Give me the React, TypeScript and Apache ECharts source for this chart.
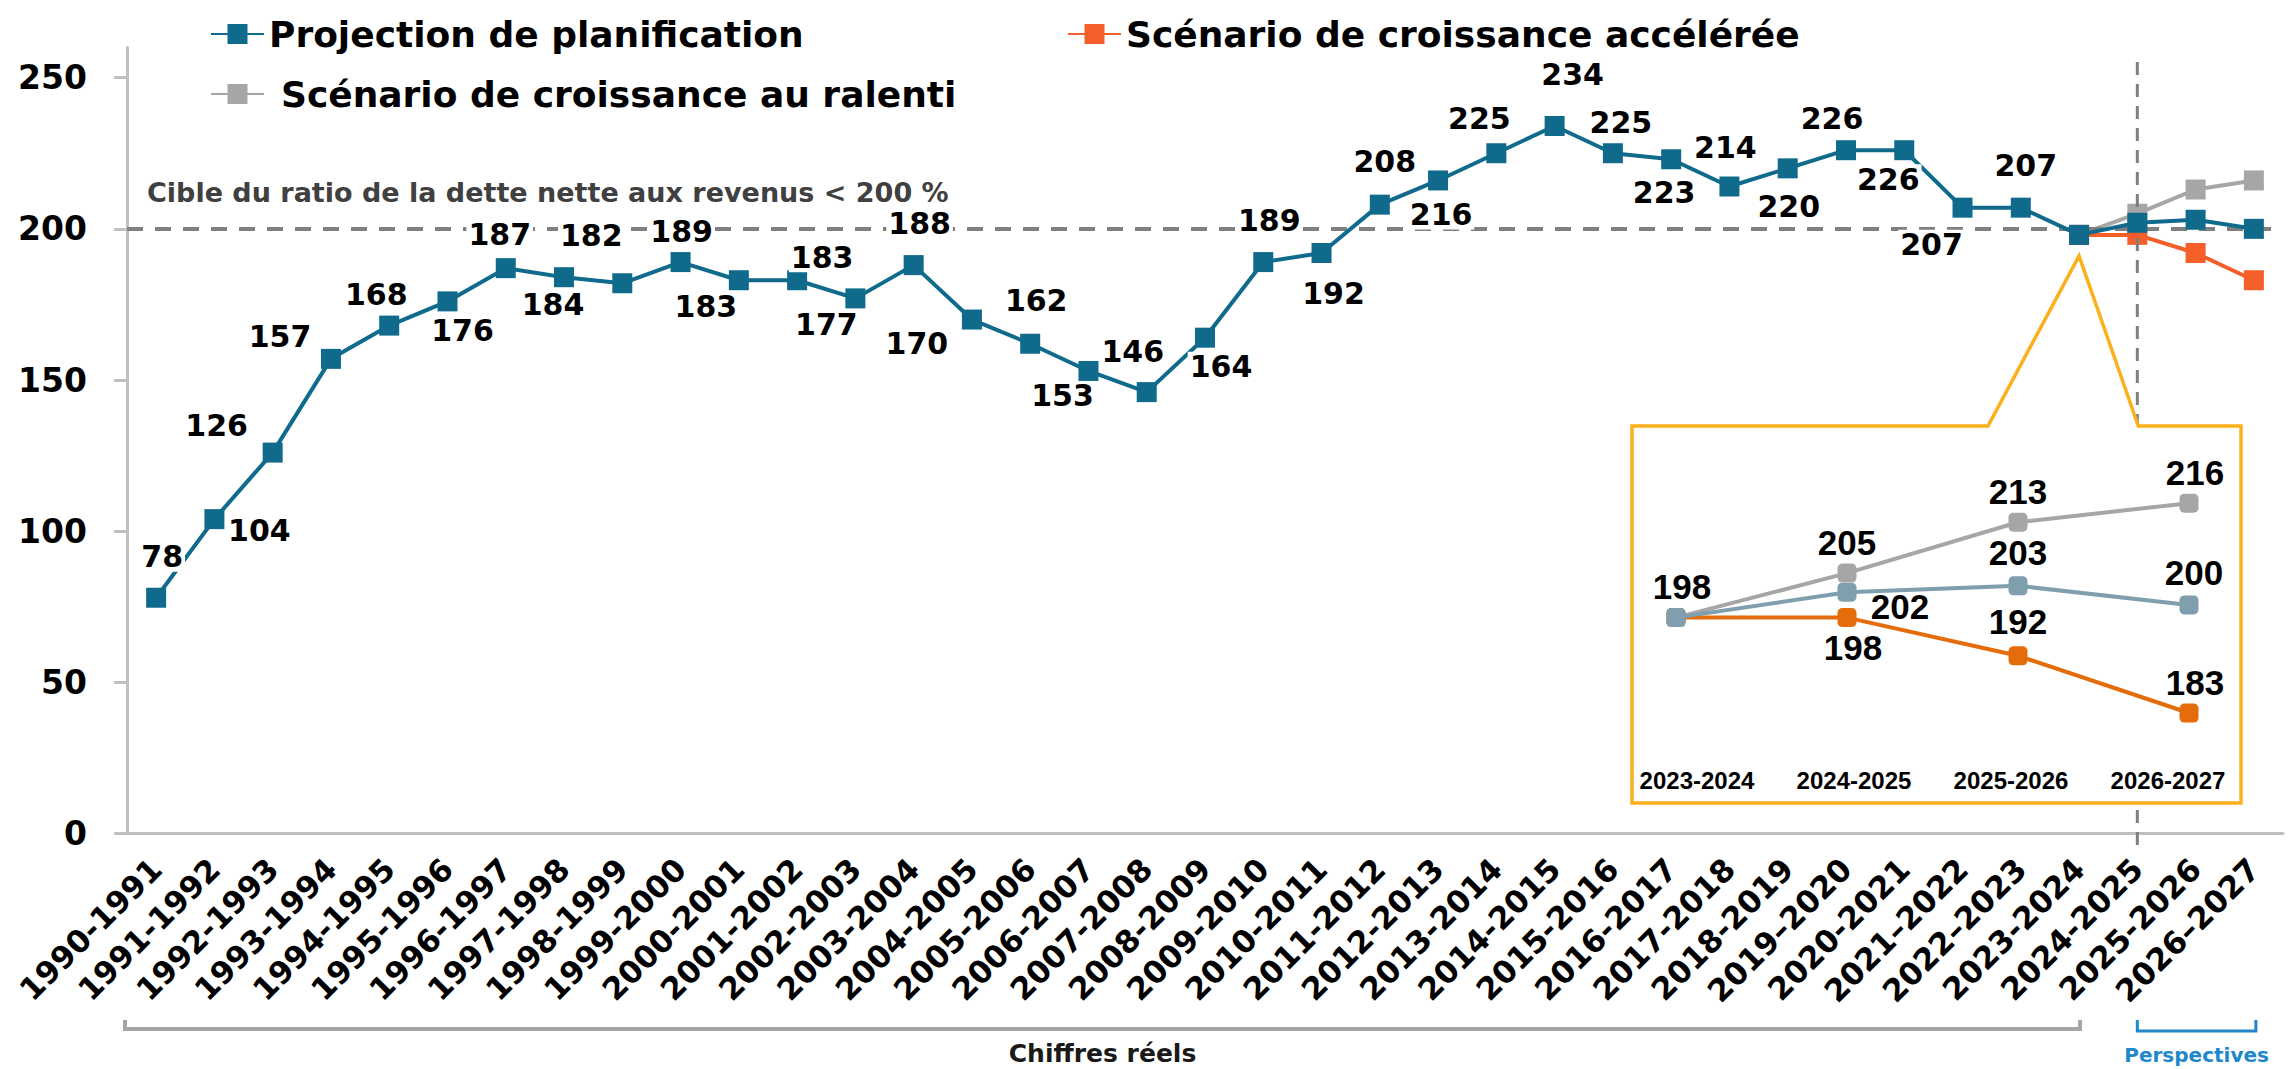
import React, { useEffect, useRef } from 'react';
import * as echarts from 'echarts';

// ---------- Data ----------
const categories = [
  '1990-1991', '1991-1992', '1992-1993', '1993-1994', '1994-1995', '1995-1996', '1996-1997',
  '1997-1998', '1998-1999', '1999-2000', '2000-2001', '2001-2002', '2002-2003', '2003-2004',
  '2004-2005', '2005-2006', '2006-2007', '2007-2008', '2008-2009', '2009-2010', '2010-2011',
  '2011-2012', '2012-2013', '2013-2014', '2014-2015', '2015-2016', '2016-2017', '2017-2018',
  '2018-2019', '2019\u20132020', '2020-2021', '2021\u20132022', '2022\u20132023', '2023-2024',
  '2024-2025', '2025-2026', '2026\u20132027',
];

const planification = [
  78, 104, 126, 157, 168, 176, 187, 184, 182, 189, 183, 183, 177, 188, 170, 162, 153, 146, 164,
  189, 192, 208, 216, 225, 234, 225, 223, 214, 220, 226, 226, 207, 207, 198, 202, 203, 200,
];

const insetCategories = ['2023-2024', '2024-2025', '2025-2026', '2026-2027'];
const insetPlanification = [198, 202, 203, 200];
const insetAccelere = [198, 198, 192, 183];
const insetRalenti = [198, 205, 213, 216];

const yTicks = [0, 50, 100, 150, 200, 250];
const targetValue = 200;

const NAME_PLAN = 'Projection de planification';
const NAME_ACC = 'Scénario de croissance accélérée';
const NAME_RAL = 'Scénario de croissance au ralenti';

// label placements (offsets of label centre from point centre, px)
const planLabelOffsets: (number[] | null)[] = [
  [6, -41], [45, 11], [-56, -27], [-51, -22], [-13, -31], [15, 29], [-6, -34], [-11, 27],
  [-31, -48], [1, -31], [-33, 26], [25, -23], [-29, 26], [6, -42], [-55, 24], [6, -43],
  [-26, 25], [-14, -41], [16, 29], [6, -42], [12, 40], [5, -43], [3, 34], [-17, -35],
  [18, -52], [8, -31], [-7, 33], [-4, -39], [1, 38], [-14, -32], [-16, 29], [-31, 37],
  [5, -42], null, null, null, null,
];
const insetPlanOffsets: (number[] | null)[] = [[6, -31], [53, 14], [0, -33], [5, -32]];
const insetAccOffsets: (number[] | null)[] = [null, [6, 30], [0, -34], [6, -31]];
const insetRalOffsets: (number[] | null)[] = [null, [0, -31], [0, -31], [6, -31]];

// ---------- Style ----------
const BLUE = '#0F6A8B';
const ORANGE = '#F55F2A';
const GRAY = '#A6A6A6';
const INSET_BLUE = '#7F9EAE';
const INSET_ORANGE = '#E46C0A';
const AXIS_GRAY = '#BFBFBF';
const GOLD = '#FBB01C';
const FONT = "'DejaVu Sans', sans-serif";
const ARIAL = "'Liberation Sans', Arial, sans-serif";

const forecastStart = categories.indexOf('2023-2024');
const forecastSeries = (vals: number[]) =>
  categories.map((_, i) => (i >= forecastStart ? vals[i - forecastStart] : null));

const withLabels = (vals: number[], offsets: (number[] | null)[]) =>
  vals.map((v, i) => ({
    value: v,
    label: offsets[i] ? { show: true, position: 'inside', offset: offsets[i] } : { show: false },
  }));

export default function App() {
  const ref = useRef<HTMLDivElement>(null);

  useEffect(() => {
    const chart = echarts.init(ref.current!, null, { renderer: 'svg' });

    const mainLabel = {
      fontFamily: FONT,
      fontWeight: 'bold',
      fontSize: 30,
      color: '#000',
      backgroundColor: '#fff',
      padding: [0, 2],
    };
    const insetLabel = {
      fontFamily: ARIAL,
      fontWeight: 'bold',
      fontSize: 35,
      color: '#000',
    };
    const legendText = { fontFamily: FONT, fontWeight: 'bold', fontSize: 36, color: '#000', lineHeight: 38 };

    const option: any = {
      animation: false,
      backgroundColor: '#fff',
      legend: [
        { data: [NAME_PLAN], left: 205, top: 10, itemWidth: 53, itemHeight: 25, textStyle: legendText, selectedMode: false },
        { data: [NAME_ACC], left: 1062, top: 10, itemWidth: 53, itemHeight: 25, textStyle: legendText, selectedMode: false },
        { data: [NAME_RAL], left: 205, top: 70, itemWidth: 53, itemHeight: 25, textStyle: { ...legendText, padding: [0, 0, 0, 12] }, selectedMode: false },
      ],
      grid: [
        { left: 127, right: 10, top: 47.4, bottom: 235.4 },
        { left: 1676, width: 513, top: 445.9, bottom: 305.1 },
        { left: 1618.5, width: 628, top: 700, bottom: 307 },
      ],
      xAxis: [
        {
          type: 'category',
          gridIndex: 0,
          data: categories,
          boundaryGap: true,
          axisLine: { lineStyle: { color: AXIS_GRAY, width: 3 } },
          axisTick: { alignWithLabel: true, length: 9, lineStyle: { color: AXIS_GRAY, width: 2.5 } },
          axisLabel: {
            interval: 0,
            rotate: 45,
            margin: 30,
            fontFamily: FONT,
            fontWeight: 'bold',
            fontSize: 31,
            color: '#000',
          },
        },
        {
          type: 'category',
          gridIndex: 1,
          data: insetCategories,
          boundaryGap: false,
          show: false,
        },
        {
          type: 'category',
          gridIndex: 2,
          data: insetCategories,
          boundaryGap: true,
          z: 70,
          axisLine: { show: false },
          axisTick: { show: false },
          axisLabel: { margin: 6, fontFamily: ARIAL, fontWeight: 'bold', fontSize: 24, color: '#000' },
        },
      ],
      yAxis: [
        {
          type: 'value',
          gridIndex: 0,
          min: 0,
          max: 260,
          interval: 50,
          splitLine: { show: false },
          axisLine: { show: true, lineStyle: { color: AXIS_GRAY, width: 3 } },
          axisTick: { show: true, length: 13, customValues: yTicks, lineStyle: { color: AXIS_GRAY, width: 3 } },
          axisLabel: {
            customValues: yTicks,
            margin: 40,
            fontFamily: FONT,
            fontWeight: 'bold',
            fontSize: 33,
            color: '#000',
          },
        },
        { type: 'value', gridIndex: 1, min: 175, max: 225, show: false },
        { type: 'value', gridIndex: 2, show: false },
      ],
      series: [
        {
          name: NAME_RAL,
          type: 'line',
          z: 3,
          data: forecastSeries(insetRalenti),
          symbol: 'rect',
          symbolSize: 20,
          itemStyle: { color: GRAY },
          lineStyle: { color: GRAY, width: 4 },
          emphasis: { disabled: true },
          markLine: {
            silent: true,
            symbol: 'none',
            label: { show: false },
            lineStyle: { color: '#7F7F7F', width: 4, type: [16, 12] },
            data: [{ yAxis: targetValue }],
          },
        },
        {
          name: NAME_ACC,
          type: 'line',
          z: 4,
          data: forecastSeries(insetAccelere),
          symbol: 'rect',
          symbolSize: 20,
          itemStyle: { color: ORANGE },
          lineStyle: { color: ORANGE, width: 4 },
          emphasis: { disabled: true },
        },
        {
          name: NAME_PLAN,
          type: 'line',
          z: 5,
          data: withLabels(planification, planLabelOffsets),
          symbol: 'rect',
          symbolSize: 20,
          itemStyle: { color: BLUE },
          lineStyle: { color: BLUE, width: 4 },
          label: mainLabel,
          emphasis: { disabled: true },
        },
        // inset (zoom on the forecast)
        {
          name: 'Détail ralenti',
          type: 'line',
          xAxisIndex: 1,
          yAxisIndex: 1,
          z: 61,
          data: withLabels(insetRalenti, insetRalOffsets),
          symbol: 'roundRect',
          symbolSize: 19,
          itemStyle: { color: GRAY },
          lineStyle: { color: GRAY, width: 4 },
          label: insetLabel,
          emphasis: { disabled: true },
        },
        {
          name: 'Détail accélérée',
          type: 'line',
          xAxisIndex: 1,
          yAxisIndex: 1,
          z: 62,
          data: withLabels(insetAccelere, insetAccOffsets),
          symbol: 'roundRect',
          symbolSize: 19,
          itemStyle: { color: INSET_ORANGE },
          lineStyle: { color: INSET_ORANGE, width: 4 },
          label: insetLabel,
          emphasis: { disabled: true },
        },
        {
          name: 'Détail planification',
          type: 'line',
          xAxisIndex: 1,
          yAxisIndex: 1,
          z: 63,
          data: withLabels(insetPlanification, insetPlanOffsets),
          symbol: 'roundRect',
          symbolSize: 19,
          itemStyle: { color: INSET_BLUE },
          lineStyle: { color: INSET_BLUE, width: 4 },
          label: insetLabel,
          emphasis: { disabled: true },
        },
      ],
    };

    chart.setOption(option);

    const xAt = (i: number) => chart.convertToPixel({ xAxisIndex: 0 }, i) as number;
    const yAt = (v: number) => chart.convertToPixel({ yAxisIndex: 0 }, v) as number;

    const iLast = forecastStart; // 2023-2024
    const iPersp = categories.indexOf('2024-2025');
    const iEnd = categories.length - 1;
    const xDash = xAt(iPersp);
    const apexX = xAt(iLast);
    const apexY = yAt(insetPlanification[0]) + 21;
    const gridLeft = 127;
    const bracketY = 1029;
    const actualL = gridLeft - 2;
    const actualR = xAt(iLast) + 1;
    const perspL = xAt(iPersp);
    const perspR = xAt(iEnd) + 2;

    chart.setOption({
      graphic: [
        {
          type: 'line',
          z: 5,
          silent: true,
          shape: { x1: xDash, y1: 62, x2: xDash, y2: 847 },
          style: { stroke: '#7F7F7F', lineWidth: 3, lineDash: [13, 9] },
        },
        {
          type: 'text',
          z: 6,
          silent: true,
          x: gridLeft + 20,
          y: yAt(targetValue) - 36,
          style: {
            text: 'Cible du ratio de la dette nette aux revenus < 200 %',
            fontFamily: FONT,
            fontWeight: 'bold',
            fontSize: 27,
            fill: '#404040',
            verticalAlign: 'middle',
            align: 'left',
          },
        },
        {
          type: 'polygon',
          z: 50,
          silent: true,
          shape: {
            points: [
              [1632, 426], [1988, 426], [apexX, apexY], [xDash + 1, 426],
              [2241, 426], [2241, 803], [1632, 803],
            ],
          },
          style: { fill: '#fff', stroke: GOLD, lineWidth: 3.5, lineJoin: 'miter' },
        },
        {
          type: 'polyline',
          z: 5,
          silent: true,
          shape: { points: [[actualL, bracketY - 9], [actualL, bracketY], [actualR, bracketY], [actualR, bracketY - 9]] },
          style: { stroke: GRAY, lineWidth: 4, fill: null },
        },
        {
          type: 'text',
          z: 5,
          silent: true,
          x: (actualL + actualR) / 2,
          y: 1053,
          style: {
            text: 'Chiffres réels',
            fontFamily: FONT,
            fontWeight: 'bold',
            fontSize: 25,
            fill: '#1A1A1A',
            align: 'center',
            verticalAlign: 'middle',
          },
        },
        {
          type: 'polyline',
          z: 5,
          silent: true,
          shape: { points: [[perspL, bracketY - 9], [perspL, bracketY + 2], [perspR, bracketY + 2], [perspR, bracketY - 9]] },
          style: { stroke: '#2088CA', lineWidth: 3, fill: null },
        },
        {
          type: 'text',
          z: 5,
          silent: true,
          x: (perspL + perspR) / 2,
          y: 1055,
          style: {
            text: 'Perspectives',
            fontFamily: FONT,
            fontWeight: 'bold',
            fontSize: 20,
            fill: '#2088CA',
            align: 'center',
            verticalAlign: 'middle',
          },
        },
      ],
    });

    return () => chart.dispose();
  }, []);

  return (
    <div
      ref={ref}
      style={{ position: 'absolute', left: 0, top: 0, width: 2293, height: 1069, background: '#fff' }}
    />
  );
}
